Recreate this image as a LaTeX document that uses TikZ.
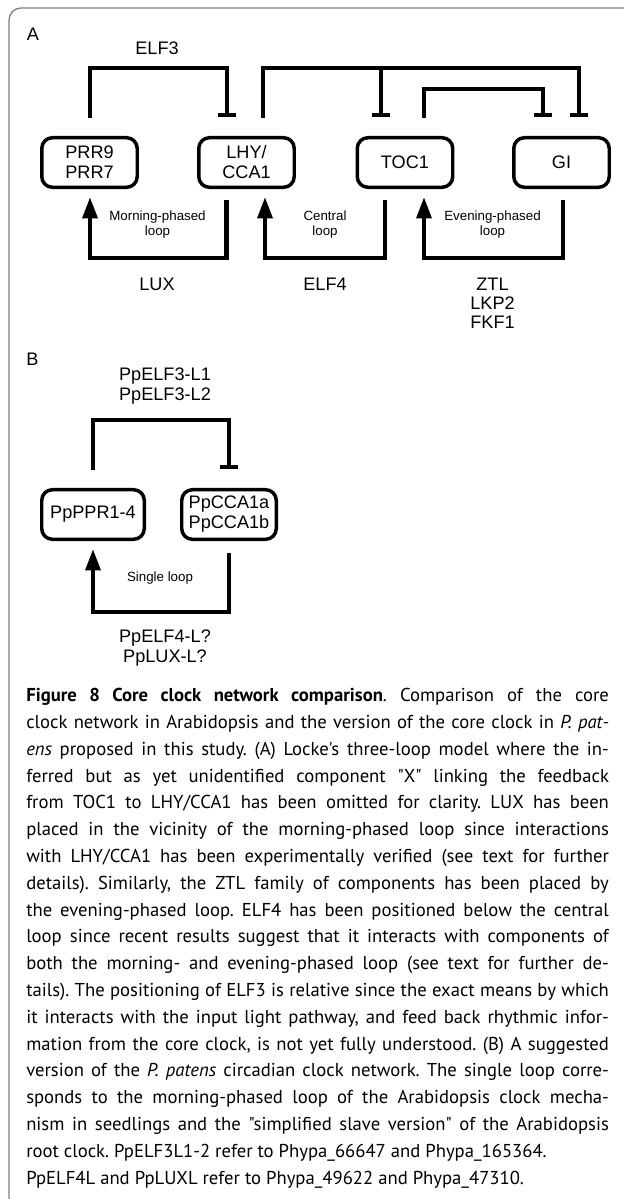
\documentclass[tikz,border=0pt]{standalone}
\usepackage{fontspec}
\setmainfont{Liberation Sans}
\newfontfamily\capfont{PT Sans}
\usetikzlibrary{arrows.meta,calc}
\begin{document}
\begin{tikzpicture}[x=0.75pt,y=-0.75pt,
  box/.style={draw, line width=2.6pt, rounded corners=8pt, minimum width=71.6pt,
    minimum height=37.2pt, inner sep=0pt, align=center,
    font=\fontsize{13.6}{15}\selectfont},
  inh/.style={line width=3.2pt, -{Bar[width=13pt]}},
  act/.style={line width=3.2pt, -{Triangle[width=11pt,length=16pt]}},
  lbl/.style={font=\fontsize{13.6}{14.25}\selectfont, align=center, inner sep=0pt},
  loopl/.style={font=\fontsize{10}{11.6}\selectfont, align=center, inner sep=0pt},
  frame/.style={draw=black!50, line width=1pt, rounded corners=9pt},
  captxt/.style={anchor=north west, inner sep=0pt, text width=437pt, align=justify,
    font=\capfont\fontsize{14}{20.1}\selectfont\frenchspacing}
]
\useasboundingbox (0,0) rectangle (624,1199);
\draw[frame] (9,1199) -- (9,8) -- (624,8);

% ---------- A ----------
\node[lbl] (la) at (33,34) {A};
\node[box] (prr) at (89.5,162.5) {PRR9\\PRR7};
\node[box] (lhy) at (246.5,162.5) {LHY/\\CCA1};
\node[box] (toc) at (405,162.5) {TOC1};
\node[box] (gi)  at (561.5,162.5) {GI};

\node[lbl] (elf3) at (157,48.5) {ELF3};
\node[loopl] (lm) at (157.5,224.5) {Morning-phased\\loop};
\node[loopl] (lc) at (325,224.5) {Central\\loop};
\node[loopl] (le) at (492.5,224.5) {Evening-phased\\loop};
\node[lbl] (lux) at (157,284) {LUX};
\node[lbl] (elf4) at (325,284) {ELF4};
\node[lbl] (ztl) at (492.5,303) {ZTL\\LKP2\\FKF1};

% inhibitions (top)
\draw[inh] ($(prr.north)+(0.5,-18)$) |- ($(lhy.north)+(-19.5,-68)$) -- ($(lhy.north)+(-19.5,-19)$);
\draw[inh] ($(lhy.north)+(16.5,-18)$) |- ($(gi.north)+(17.5,-68)$) -- ($(gi.north)+(17.5,-19)$);
\draw[inh] ($(toc.north)+(-24,-68)$) -- ($(toc.north)+(-24,-19)$);
\draw[inh] ($(toc.north)+(19,-18)$) |- ($(gi.north)+(-18.5,-47)$) -- ($(gi.north)+(-18.5,-19)$);

% activations (bottom)
\draw[act] ($(lhy.south)+(-20,11)$) |- ($(prr.south)+(0.5,69)$) -- ($(prr.south)+(0.5,8)$);
\draw[act] ($(toc.south)+(-20,11)$) |- ($(lhy.south)+(18.5,69)$) -- ($(lhy.south)+(18.5,8)$);
\draw[act] ($(gi.south)+(1.5,11)$) |- ($(toc.south)+(19,69)$) -- ($(toc.south)+(19,8)$);

% ---------- B ----------
\node[lbl] (lb) at (32.5,359.5) {B};
\node[box, minimum width=76.9pt] (ppr) at (93,514.5) {PpPPR1-4};
\node[box, minimum width=70.9pt] (cca) at (229,514.5) {PpCCA1a\\PpCCA1b};
\node[lbl, font=\fontsize{13.6}{15}\selectfont] (pelf3) at (165,385.8) {PpELF3-L1\\PpELF3-L2};
\node[loopl] (ls) at (160,578.5) {Single loop};
\node[lbl, font=\fontsize{13.6}{15}\selectfont] (pelf4) at (165,648) {PpELF4-L?\\PpLUX-L?};

\draw[inh] ($(ppr.north)+(0,-18)$) |- ($(cca.north)+(0,-68)$) -- ($(cca.north)+(0,-19)$);
\draw[act] ($(cca.south)+(0,12)$) |- ($(ppr.south)+(0,71)$) -- ($(ppr.south)+(0,8)$);

% ---------- caption ----------
\node[captxt] (cap) at (26,688) {\textbf{Figure 8 Core clock network comparison}. Comparison of the core\linebreak
clock network in Arabidopsis and the version of the core clock in \textit{P. pat-}\linebreak
\textit{ens} proposed in this study. (A) Locke's three-loop model where the in-\linebreak
ferred but as yet unidentified component "X" linking the feedback\linebreak
from TOC1 to LHY/CCA1 has been omitted for clarity. LUX has been\linebreak
placed in the vicinity of the morning-phased loop since interactions\linebreak
with LHY/CCA1 has been experimentally verified (see text for further\linebreak
details). Similarly, the ZTL family of components has been placed by\linebreak
the evening-phased loop. ELF4 has been positioned below the central\linebreak
loop since recent results suggest that it interacts with components of\linebreak
both the morning- and evening-phased loop (see text for further de-\linebreak
tails). The positioning of ELF3 is relative since the exact means by which\linebreak
it interacts with the input light pathway, and feed back rhythmic infor-\linebreak
mation from the core clock, is not yet fully understood. (B) A suggested\linebreak
version of the \textit{P. patens} circadian clock network. The single loop corre-\linebreak
sponds to the morning-phased loop of the Arabidopsis clock mecha-\linebreak
nism in seedlings and the "simplified slave version" of the Arabidopsis\linebreak
root clock. PpELF3L1-2 refer to Phypa\_66647 and Phypa\_165364.\newline
PpELF4L and PpLUXL refer to Phypa\_49622 and Phypa\_47310.};
\end{tikzpicture}
\end{document}
